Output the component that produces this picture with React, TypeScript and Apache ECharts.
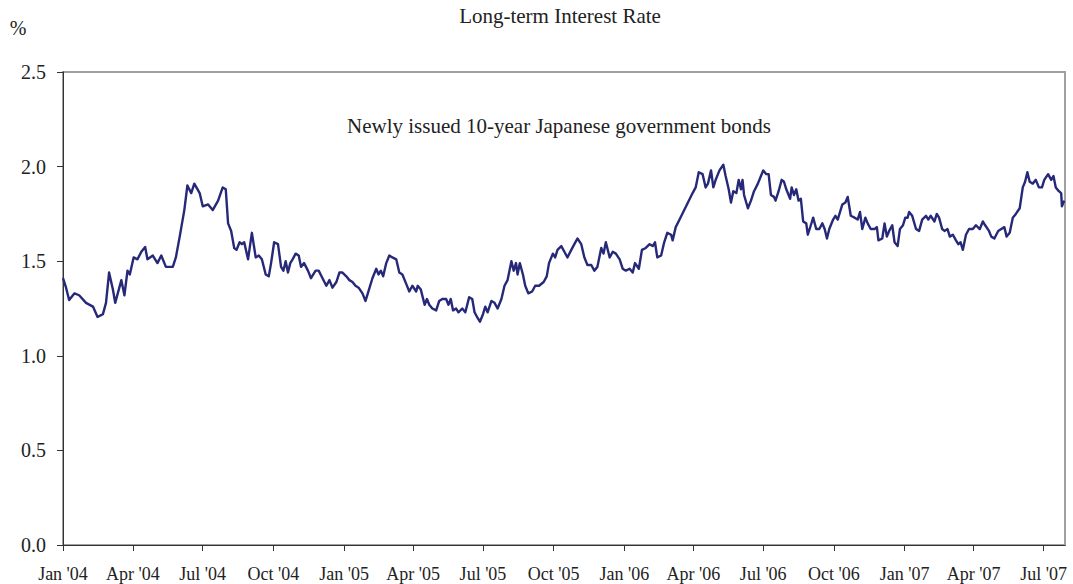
import React, { useEffect, useRef } from "react";
import * as echarts from "echarts";

// Observation dates, as days since 1 Jan 2004
const obsDays: number[] = [
  0, 4, 8, 15, 21, 30, 39, 45, 52, 56, 60, 65, 68, 76, 80, 84, 87, 92, 97, 102,
  107, 110, 117, 123, 128, 134, 143, 147, 152, 158, 162, 167, 171, 178, 182, 189, 195, 202, 208, 212,
  215, 219, 223, 226, 230, 233, 236, 241, 246, 251, 255, 259, 264, 268, 271, 275, 280, 284, 287, 290,
  293, 296, 299, 303, 307, 310, 314, 319, 323, 329, 333, 338, 343, 347, 351, 356, 360, 364, 369, 373,
  377, 381, 385, 390, 394, 397, 403, 408, 411, 414, 417, 421, 425, 429, 434, 438, 442, 447, 451, 455,
  460, 462, 466, 471, 474, 477, 481, 486, 490, 494, 499, 502, 505, 508, 512, 515, 520, 524, 529, 533,
  536, 540, 543, 547, 550, 553, 558, 562, 566, 571, 575, 579, 584, 587, 590, 592, 595, 599, 602, 606,
  611, 615, 620, 626, 630, 633, 638, 641, 644, 649, 653, 657, 662, 666, 670, 675, 679, 683, 688, 692,
  696, 701, 704, 707, 712, 716, 720, 725, 729, 733, 738, 742, 745, 750, 754, 759, 764, 768, 771, 774,
  779, 783, 787, 792, 794, 798, 803, 820, 824, 828, 833, 837, 840, 844, 847, 850, 855, 860, 863, 867,
  870, 873, 877, 880, 883, 885, 887, 892, 896, 900, 905, 909, 912, 916, 919, 922, 926, 928, 932, 936,
  939, 942, 947, 949, 952, 955, 958, 961, 964, 968, 970, 974, 977, 981, 985, 989, 992, 995, 998, 1003,
  1006, 1009, 1012, 1015, 1019, 1022, 1026, 1031, 1035, 1038, 1041, 1045, 1048, 1052, 1057, 1060, 1062, 1067, 1070, 1073,
  1076, 1080, 1083, 1087, 1090, 1094, 1097, 1100, 1102, 1106, 1111, 1115, 1119, 1124, 1127, 1130, 1135, 1138, 1141, 1145,
  1148, 1152, 1155, 1159, 1163, 1166, 1169, 1172, 1176, 1180, 1185, 1189, 1194, 1198, 1201, 1206, 1209, 1213, 1218, 1222,
  1226, 1229, 1233, 1237, 1241, 1246, 1250, 1253, 1256, 1259, 1263, 1267, 1271, 1275, 1278, 1283, 1287, 1290, 1293, 1297,
  1300, 1301, 1304,
];

// Yield on newly issued 10-year JGBs (%)
const jgb10y: number[] = [
  1.41, 1.36, 1.295, 1.33, 1.32, 1.28, 1.26, 1.205, 1.22, 1.28, 1.44, 1.35, 1.28, 1.40, 1.32, 1.45, 1.43, 1.52, 1.51, 1.55,
  1.575, 1.51, 1.53, 1.49, 1.53, 1.47, 1.47, 1.52, 1.63, 1.77, 1.90, 1.86, 1.91, 1.86, 1.79, 1.80, 1.77, 1.82, 1.89, 1.88,
  1.70, 1.66, 1.57, 1.56, 1.60, 1.59, 1.60, 1.51, 1.65, 1.52, 1.53, 1.51, 1.43, 1.42, 1.49, 1.60, 1.59, 1.47, 1.45, 1.50,
  1.44, 1.49, 1.51, 1.54, 1.53, 1.47, 1.49, 1.45, 1.41, 1.45, 1.45, 1.41, 1.37, 1.40, 1.36, 1.39, 1.44, 1.44, 1.42, 1.40,
  1.39, 1.37, 1.36, 1.33, 1.29, 1.33, 1.41, 1.46, 1.43, 1.45, 1.42, 1.49, 1.53, 1.52, 1.51, 1.44, 1.43, 1.38, 1.34, 1.37,
  1.34, 1.37, 1.35, 1.27, 1.30, 1.27, 1.25, 1.24, 1.29, 1.30, 1.30, 1.27, 1.30, 1.24, 1.25, 1.23, 1.25, 1.23, 1.31, 1.30,
  1.23, 1.20, 1.18, 1.22, 1.26, 1.23, 1.29, 1.28, 1.25, 1.30, 1.37, 1.40, 1.50, 1.45, 1.49, 1.43, 1.49, 1.43, 1.37, 1.33,
  1.34, 1.37, 1.37, 1.39, 1.42, 1.49, 1.54, 1.52, 1.56, 1.58, 1.55, 1.52, 1.56, 1.59, 1.62, 1.59, 1.52, 1.48, 1.48, 1.45,
  1.47, 1.57, 1.54, 1.60, 1.52, 1.55, 1.54, 1.51, 1.46, 1.45, 1.46, 1.44, 1.49, 1.46, 1.56, 1.57, 1.59, 1.58, 1.60, 1.52,
  1.53, 1.60, 1.65, 1.64, 1.61, 1.68, 1.72, 1.86, 1.89, 1.97, 1.96, 1.89, 1.91, 1.98, 1.89, 1.93, 1.98, 2.01, 1.95, 1.88,
  1.81, 1.87, 1.86, 1.93, 1.88, 1.93, 1.85, 1.78, 1.82, 1.87, 1.91, 1.95, 1.98, 1.96, 1.96, 1.85, 1.84, 1.82, 1.87, 1.93,
  1.92, 1.88, 1.83, 1.89, 1.85, 1.88, 1.82, 1.83, 1.71, 1.70, 1.64, 1.69, 1.73, 1.67, 1.67, 1.70, 1.67, 1.62, 1.67, 1.72,
  1.74, 1.72, 1.76, 1.80, 1.81, 1.84, 1.74, 1.73, 1.72, 1.76, 1.67, 1.73, 1.70, 1.67, 1.67, 1.68, 1.61, 1.62, 1.70, 1.63,
  1.66, 1.69, 1.60, 1.58, 1.67, 1.69, 1.73, 1.73, 1.76, 1.74, 1.67, 1.66, 1.72, 1.74, 1.72, 1.74, 1.71, 1.75, 1.73, 1.67,
  1.66, 1.67, 1.63, 1.64, 1.61, 1.59, 1.60, 1.56, 1.64, 1.67, 1.67, 1.69, 1.67, 1.71, 1.69, 1.66, 1.63, 1.62, 1.66, 1.67,
  1.68, 1.63, 1.65, 1.73, 1.75, 1.78, 1.89, 1.92, 1.97, 1.92, 1.91, 1.93, 1.89, 1.89, 1.93, 1.96, 1.93, 1.95, 1.89, 1.87,
  1.86, 1.79, 1.82,
];

const quarterLabels: string[] = [
  "Jan '04", "Apr '04", "Jul '04", "Oct '04",
  "Jan '05", "Apr '05", "Jul '05", "Oct '05",
  "Jan '06", "Apr '06", "Jul '06", "Oct '06",
  "Jan '07", "Apr '07", "Jul '07",
];

const titleText = "Long-term Interest Rate";
const noteText = "Newly issued 10-year Japanese government bonds";
const unitText = "%";

const FONT = "'Liberation Serif', 'Times New Roman', Times, serif";
const BASE = Date.UTC(2004, 0, 1);
const quarterDays = quarterLabels.map(
  (_, i) => Math.round((Date.UTC(2004 + Math.floor(i / 4), (i % 4) * 3, 1) - BASE) / 864e5)
);

export default function App() {
  const ref = useRef<HTMLDivElement>(null);
  useEffect(() => {
    if (!ref.current) return;
    const chart = echarts.init(ref.current, null, { renderer: "svg" });
    const data = obsDays.map((d, i) => [d, jgb10y[i]]);
    chart.setOption({
      animation: false,
      backgroundColor: "#ffffff",
      textStyle: { fontFamily: FONT },
      grid: {
        left: 63,
        right: 8,
        top: 72,
        bottom: 39,
        show: true,
        borderColor: "#a0a0a0",
        borderWidth: 2,
        backgroundColor: "transparent",
      },
      xAxis: {
        type: "value",
        min: 0,
        max: 1305,
        splitLine: { show: false },
        axisLine: { show: true, onZero: false, lineStyle: { color: "#333333", width: 1 } },
        axisTick: {
          show: true,
          length: 6,
          customValues: quarterDays,
          lineStyle: { color: "#333333" },
        },
        axisLabel: {
          customValues: quarterDays,
          margin: 20,
          fontSize: 18,
          fontFamily: FONT,
          color: "#222222",
          formatter: (v: number) => {
            const idx = quarterDays.indexOf(Math.round(v));
            return idx >= 0 ? quarterLabels[idx] : "";
          },
        },
      },
      yAxis: {
        type: "value",
        min: 0,
        max: 2.5,
        interval: 0.5,
        splitLine: { show: false },
        axisLine: { show: true, lineStyle: { color: "#333333", width: 1 } },
        axisTick: { show: true, length: 6, lineStyle: { color: "#333333" } },
        axisLabel: {
          margin: 17,
          fontSize: 20,
          fontFamily: FONT,
          color: "#222222",
          formatter: (v: number) => v.toFixed(1),
        },
      },
      graphic: [
        {
          type: "text",
          x: 560,
          y: 16,
          style: {
            text: titleText,
            font: `21px ${FONT}`,
            fill: "#222222",
            align: "center",
            verticalAlign: "middle",
            textAlign: "center",
            textVerticalAlign: "middle",
          },
        },
        {
          type: "text",
          x: 18,
          y: 28,
          style: {
            text: unitText,
            font: `20px ${FONT}`,
            fill: "#222222",
            align: "center",
            verticalAlign: "middle",
            textAlign: "center",
            textVerticalAlign: "middle",
          },
        },
        {
          type: "text",
          x: 559,
          y: 126,
          style: {
            text: noteText,
            font: `21px ${FONT}`,
            fill: "#222222",
            align: "center",
            verticalAlign: "middle",
            textAlign: "center",
            textVerticalAlign: "middle",
          },
        },
      ],
      series: [
        {
          type: "line",
          data,
          showSymbol: false,
          symbol: "none",
          lineStyle: { color: "#262878", width: 2.4, join: "round" },
          z: 3,
        },
      ],
    });
    return () => chart.dispose();
  }, []);
  return (
    <div
      ref={ref}
      style={{ position: "fixed", left: 0, top: 0, width: 1073, height: 584 }}
    />
  );
}
